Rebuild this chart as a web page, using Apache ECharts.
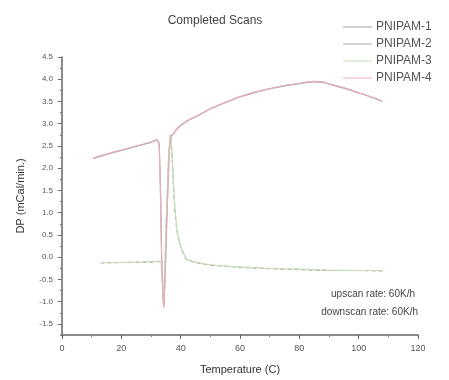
<!DOCTYPE html>
<html>
<head>
<meta charset="utf-8">
<script src="https://cdn.jsdelivr.net/npm/echarts@6/dist/echarts.min.js"></script>
<style>html,body{margin:0;padding:0;background:#fff}#c{width:449px;height:380px}</style>
</head>
<body>
<div id="c"></div>
<script>
// Heating (upscan) curve temperatures & values
const upT  = [10.5, 15, 20, 25, 30, 32, 32.7, 33.2, 33.6, 34.0, 34.3, 34.8, 35.3, 35.8, 36.3, 36.7, 37.5, 38.5, 40, 43, 46.5, 50, 55, 60, 65, 70, 75, 80, 85, 88, 90, 95, 100, 105, 108];
const up2  = [2.22, 2.31, 2.4, 2.49, 2.58, 2.63, 2.55, 1.5, 0.0, -0.8, -1.13, -0.3, 0.8, 1.8, 2.5, 2.7, 2.77, 2.86, 2.96, 3.09, 3.2, 3.33, 3.47, 3.6, 3.7, 3.78, 3.85, 3.9, 3.94, 3.93, 3.89, 3.8, 3.69, 3.58, 3.5];
const up4  = [2.23, 2.32, 2.41, 2.5, 2.59, 2.64, 2.56, 1.4, -0.1, -0.85, -1.1, -0.35, 0.75, 1.75, 2.48, 2.69, 2.77, 2.87, 2.97, 3.1, 3.21, 3.34, 3.48, 3.61, 3.71, 3.79, 3.86, 3.91, 3.95, 3.94, 3.9, 3.81, 3.7, 3.59, 3.5];
// Cooling (downscan) curve temperatures & values
const dnT  = [13, 20, 30, 33, 33.8, 34.3, 35, 35.8, 36.5, 37, 37.5, 38, 38.5, 39, 39.7, 40.5, 42, 45, 50, 55, 60, 70, 80, 90, 100, 108];
const dn1  = [-0.13, -0.12, -0.11, -0.1, -0.35, -1.1, 0.5, 2.0, 2.75, 2.4, 1.7, 1.1, 0.75, 0.5, 0.32, 0.15, -0.05, -0.12, -0.18, -0.2, -0.23, -0.26, -0.28, -0.3, -0.3, -0.31];
const dn3  = [-0.12, -0.12, -0.1, -0.09, -0.3, -1.05, 0.55, 2.05, 2.75, 2.45, 1.75, 1.15, 0.8, 0.52, 0.33, 0.16, -0.04, -0.11, -0.17, -0.2, -0.22, -0.25, -0.27, -0.29, -0.3, -0.3];

const xTicks = [0, 20, 40, 60, 80, 100, 120];
const yLabels = [-1.5, -1.0, -0.5, 0.0, 0.5, 1.0, 1.5, 2.0, 2.5, 3.0, 3.5, 4.0, 4.5];

const names = ['PNIPAM-1', 'PNIPAM-2', 'PNIPAM-3', 'PNIPAM-4'];
const colors = ['#a0a0a0', '#a9a3b8', '#c3dfb3', '#e6aeb8'];

const pair = (t, v) => t.map((x, i) => [x, v[i]]);
const seriesData = [pair(dnT, dn1), pair(upT, up2), pair(dnT, dn3), pair(upT, up4)];

const font = 'Liberation Sans, Arial, sans-serif';
const chart = echarts.init(document.getElementById('c'), null, {renderer: 'canvas'});
chart.setOption({
  animation: false,
  backgroundColor: '#fff',
  title: {
    text: 'Completed Scans', left: 215, top: 15, textAlign: 'center', padding: 0,
    textStyle: {fontFamily: font, fontSize: 12, fontWeight: 'normal', color: '#444'}
  },
  legend: {
    orient: 'vertical', left: 343, top: 21, itemGap: 5, itemWidth: 29, itemHeight: 12, padding: 0,
    icon: 'path://M0,5 L30,5 L30,6 L0,6 Z',
    data: names,
    textStyle: {fontFamily: font, fontSize: 12, color: '#555', padding: [0, 0, 0, -1]}
  },
  grid: {left: 62, right: 31, top: 57, bottom: 45},
  xAxis: {
    type: 'value', min: 0, max: 120, interval: 20,
    name: 'Temperature (C)', nameLocation: 'middle', nameGap: 29,
    nameTextStyle: {fontFamily: font, fontSize: 11, color: '#333'},
    axisLine: {onZero: false, lineStyle: {color: '#666', width: 1.5}},
    axisTick: {show: true, inside: false, length: 4, lineStyle: {color: '#666'}},
    minorTick: {show: true, splitNumber: 2, length: 2, lineStyle: {color: '#777'}},
    axisLabel: {fontFamily: font, fontSize: 9, color: '#555', margin: 9,
      customValues: xTicks},
    splitLine: {show: false}
  },
  yAxis: [{
    type: 'value', min: -1.75, max: 4.5,
    name: 'DP (mCal/min.)', nameLocation: 'middle', nameGap: 36, nameRotate: 90,
    nameTextStyle: {fontFamily: font, fontSize: 11, color: '#333'},
    axisLine: {show: true, onZero: false, lineStyle: {color: '#666', width: 1.5}},
    axisTick: {show: true, length: 4, lineStyle: {color: '#666'}, customValues: yLabels},
    axisLabel: {fontFamily: font, fontSize: 8, color: '#555', margin: 9,
      customValues: yLabels,
      formatter: v => v.toFixed(1)},
    splitLine: {show: false}
  }, {
    type: 'value', min: -1.75, max: 4.5, interval: 0.25, position: 'left',
    axisLine: {show: false, onZero: false},
    axisTick: {show: true, length: 2, lineStyle: {color: '#777'}},
    axisLabel: {show: false},
    splitLine: {show: false}
  }],
  graphic: [
    {type: 'text', right: 34, top: 289, style: {text: 'upscan rate: 60K/h', fontFamily: font, fontSize: 10, fill: '#444', textAlign: 'right'}},
    {type: 'text', right: 31, top: 307, style: {text: 'downscan rate: 60K/h', fontFamily: font, fontSize: 10, fill: '#444', textAlign: 'right'}}
  ],
  series: names.map((n, i) => ({
    name: n, type: 'line', data: seriesData[i], showSymbol: false, symbol: 'none',
    smooth: 0.2, yAxisIndex: 0,
    lineStyle: {color: colors[i], width: 1.2, type: i === 0 ? [4, 3] : 'solid'},
    itemStyle: {color: colors[i]}
  }))
});
</script>
</body>
</html>
